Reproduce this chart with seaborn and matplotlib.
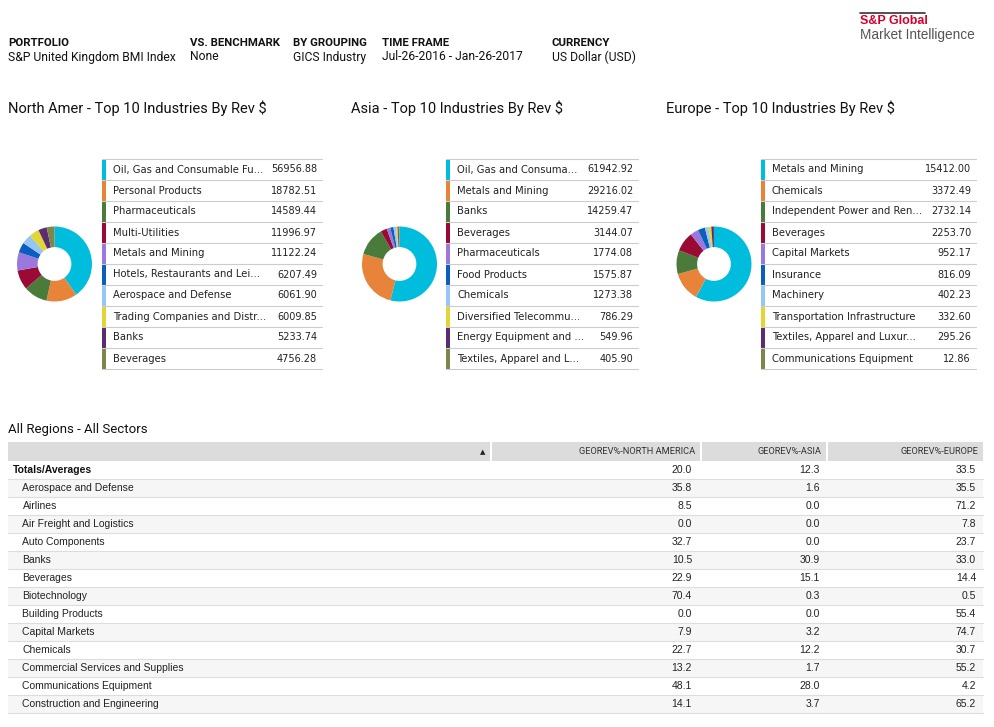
import matplotlib.pyplot as plt
import seaborn as sns
from matplotlib.patches import Rectangle

sns.set_theme(style="white")
plt.rcParams["font.family"] = ["DejaVu Sans"]

NARROW = ["Roboto", "DejaVu Sans"]
ARIAL = ["Liberation Sans", "DejaVu Sans"]

# report header
header_labels = ["PORTFOLIO", "VS. BENCHMARK", "BY GROUPING", "TIME FRAME", "CURRENCY"]
header_values = ["S&P United Kingdom BMI Index", "None", "GICS Industry",
                 "Jul-26-2016 - Jan-26-2017", "US Dollar (USD)"]

# top 10 industries by revenue, per region
na_industries = ["Oil, Gas and Consumable Fu...", "Personal Products", "Pharmaceuticals",
                 "Multi-Utilities", "Metals and Mining", "Hotels, Restaurants and Lei...",
                 "Aerospace and Defense", "Trading Companies and Distr...", "Banks", "Beverages"]
na_revenue = [56956.88, 18782.51, 14589.44, 11996.97, 11122.24,
              6207.49, 6061.90, 6009.85, 5233.74, 4756.28]

asia_industries = ["Oil, Gas and Consuma...", "Metals and Mining", "Banks", "Beverages",
                   "Pharmaceuticals", "Food Products", "Chemicals",
                   "Diversified Telecommu...", "Energy Equipment and ...",
                   "Textiles, Apparel and L..."]
asia_revenue = [61942.92, 29216.02, 14259.47, 3144.07, 1774.08,
                1575.87, 1273.38, 786.29, 549.96, 405.90]

europe_industries = ["Metals and Mining", "Chemicals", "Independent Power and Ren...",
                     "Beverages", "Capital Markets", "Insurance", "Machinery",
                     "Transportation Infrastructure", "Textiles, Apparel and Luxur...",
                     "Communications Equipment"]
europe_revenue = [15412.00, 3372.49, 2732.14, 2253.70, 952.17,
                  816.09, 402.23, 332.60, 295.26, 12.86]

# all regions table
table_columns = ["GEOREV%-NORTH AMERICA", "GEOREV%-ASIA", "GEOREV%-EUROPE"]
table_rows = ["Totals/Averages", "Aerospace and Defense", "Airlines", "Air Freight and Logistics",
              "Auto Components", "Banks", "Beverages", "Biotechnology", "Building Products",
              "Capital Markets", "Chemicals", "Commercial Services and Supplies",
              "Communications Equipment", "Construction and Engineering"]
georev_na = [20.0, 35.8, 8.5, 0.0, 32.7, 10.5, 22.9, 70.4, 0.0, 7.9, 22.7, 13.2, 48.1, 14.1]
georev_asia = [12.3, 1.6, 0.0, 0.0, 0.0, 30.9, 15.1, 0.3, 0.0, 3.2, 12.2, 1.7, 28.0, 3.7]
georev_europe = [33.5, 35.5, 71.2, 7.8, 23.7, 33.0, 14.4, 0.5, 55.4, 74.7, 30.7, 55.2, 4.2, 65.2]

palette = sns.color_palette(["#00BCDD", "#E8843A", "#4B7B3B", "#9B0A35", "#9B78DD",
                             "#0A5EBE", "#96C6F5", "#E3D634", "#5B2D6F", "#7D874B"])

W, H = 995, 727
fig = plt.figure(figsize=(W / 100, H / 100), dpi=100)
ax = fig.add_axes([0, 0, 1, 1])
ax.set_xlim(0, W)
ax.set_ylim(H, 0)
ax.axis("off")

# logo
ax.plot([860, 925], [12.5, 12.5], color="#333333", lw=1.2)
ax.text(860, 21, "S&P Global", color="#D6002A", fontsize=9, fontweight="bold",
        family=ARIAL, va="center")
ax.text(860, 35, "Market Intelligence", color="#555555", fontsize=9.8, family=ARIAL, va="center")

# header block
for x, lab, val in zip([8, 190, 293, 382, 552], header_labels, header_values):
    ax.text(x, 43, lab, fontsize=8.2, fontweight="bold", family=NARROW, va="center", color="#111111")
    ax.text(x, 57, val, fontsize=8.7, family=NARROW, va="center", color="#111111")

# donut charts with legend tables
regions = [
    ("North Amer - Top 10 Industries By Rev $", 8, 54.5, na_industries, na_revenue, 102, 113, 317, 322),
    ("Asia - Top 10 Industries By Rev $", 351, 399.5, asia_industries, asia_revenue, 446, 457, 633, 638),
    ("Europe - Top 10 Industries By Rev $", 666, 714, europe_industries, europe_revenue, 761, 772, 971, 976),
]
r = 37.5
cy = 264
row_h = 21
top = 159
for title, tx, cx, names, vals, sx, lx, vx, rx in regions:
    ax.text(tx, 108, title, fontsize=10.5, family=NARROW, va="center", color="#111111")
    pax = fig.add_axes([(cx - r) / W, 1 - (cy + r) / H, 2 * r / W, 2 * r / H])
    pax.pie(vals, colors=palette, startangle=90, counterclock=False, radius=1,
            wedgeprops=dict(width=0.55, linewidth=0))
    pax.set_xlim(-1, 1)
    pax.set_ylim(-1, 1)
    for i, (name, v) in enumerate(zip(names, vals)):
        y0 = top + i * row_h
        ax.add_patch(Rectangle((sx, y0 + 0.5), 4, row_h - 1, color=palette[i], lw=0))
        ax.text(lx, y0 + row_h / 2, name, fontsize=7.2, va="center", color="#222222")
        ax.text(vx, y0 + row_h / 2, f"{v:.2f}", fontsize=7, va="center", ha="right", color="#222222")
    for i in range(len(names) + 1):
        ax.plot([sx, rx], [top + i * row_h] * 2, color="#CCCCCC", lw=0.8)

# all regions table
ax.text(8, 430, "All Regions - All Sectors", fontsize=9.5, family=NARROW, va="center", color="#111111")
col_edges = [(8, 490), (492, 700), (702, 826), (828, 983)]
for x0, x1 in col_edges:
    ax.add_patch(Rectangle((x0, 442), x1 - x0, 19, color="#DCDCDC", lw=0))
ax.text(483, 452, "\u25B2", fontsize=5, ha="center", va="center", color="#222222")
for (x0, x1), col in zip(col_edges[1:], table_columns):
    ax.text(x1 - 5, 451.5, col, fontsize=6.7, family=NARROW, ha="right", va="center", color="#333333")

rh = 18
body_top = 461
for i, name in enumerate(table_rows):
    y0 = body_top + i * rh
    if i % 2 == 1:
        ax.add_patch(Rectangle((8, y0), 975, rh, color="#F6F6F6", lw=0))
    ax.plot([8, 983], [y0 + rh, y0 + rh], color="#DDDDDD", lw=0.8)
    if i == 0:
        ax.text(13, y0 + rh / 2, name, fontsize=7.5, fontweight="bold", family=ARIAL,
                va="center", color="#111111")
    else:
        ax.text(22.5, y0 + rh / 2, name, fontsize=7.5, family=ARIAL, va="center", color="#222222")
    for xr, v in zip([692, 820, 976], [georev_na[i], georev_asia[i], georev_europe[i]]):
        ax.text(xr, y0 + rh / 2, f"{v:.1f}", fontsize=7.5, family=ARIAL, ha="right",
                va="center", color="#222222")

fig.savefig("out.png", dpi=100)
